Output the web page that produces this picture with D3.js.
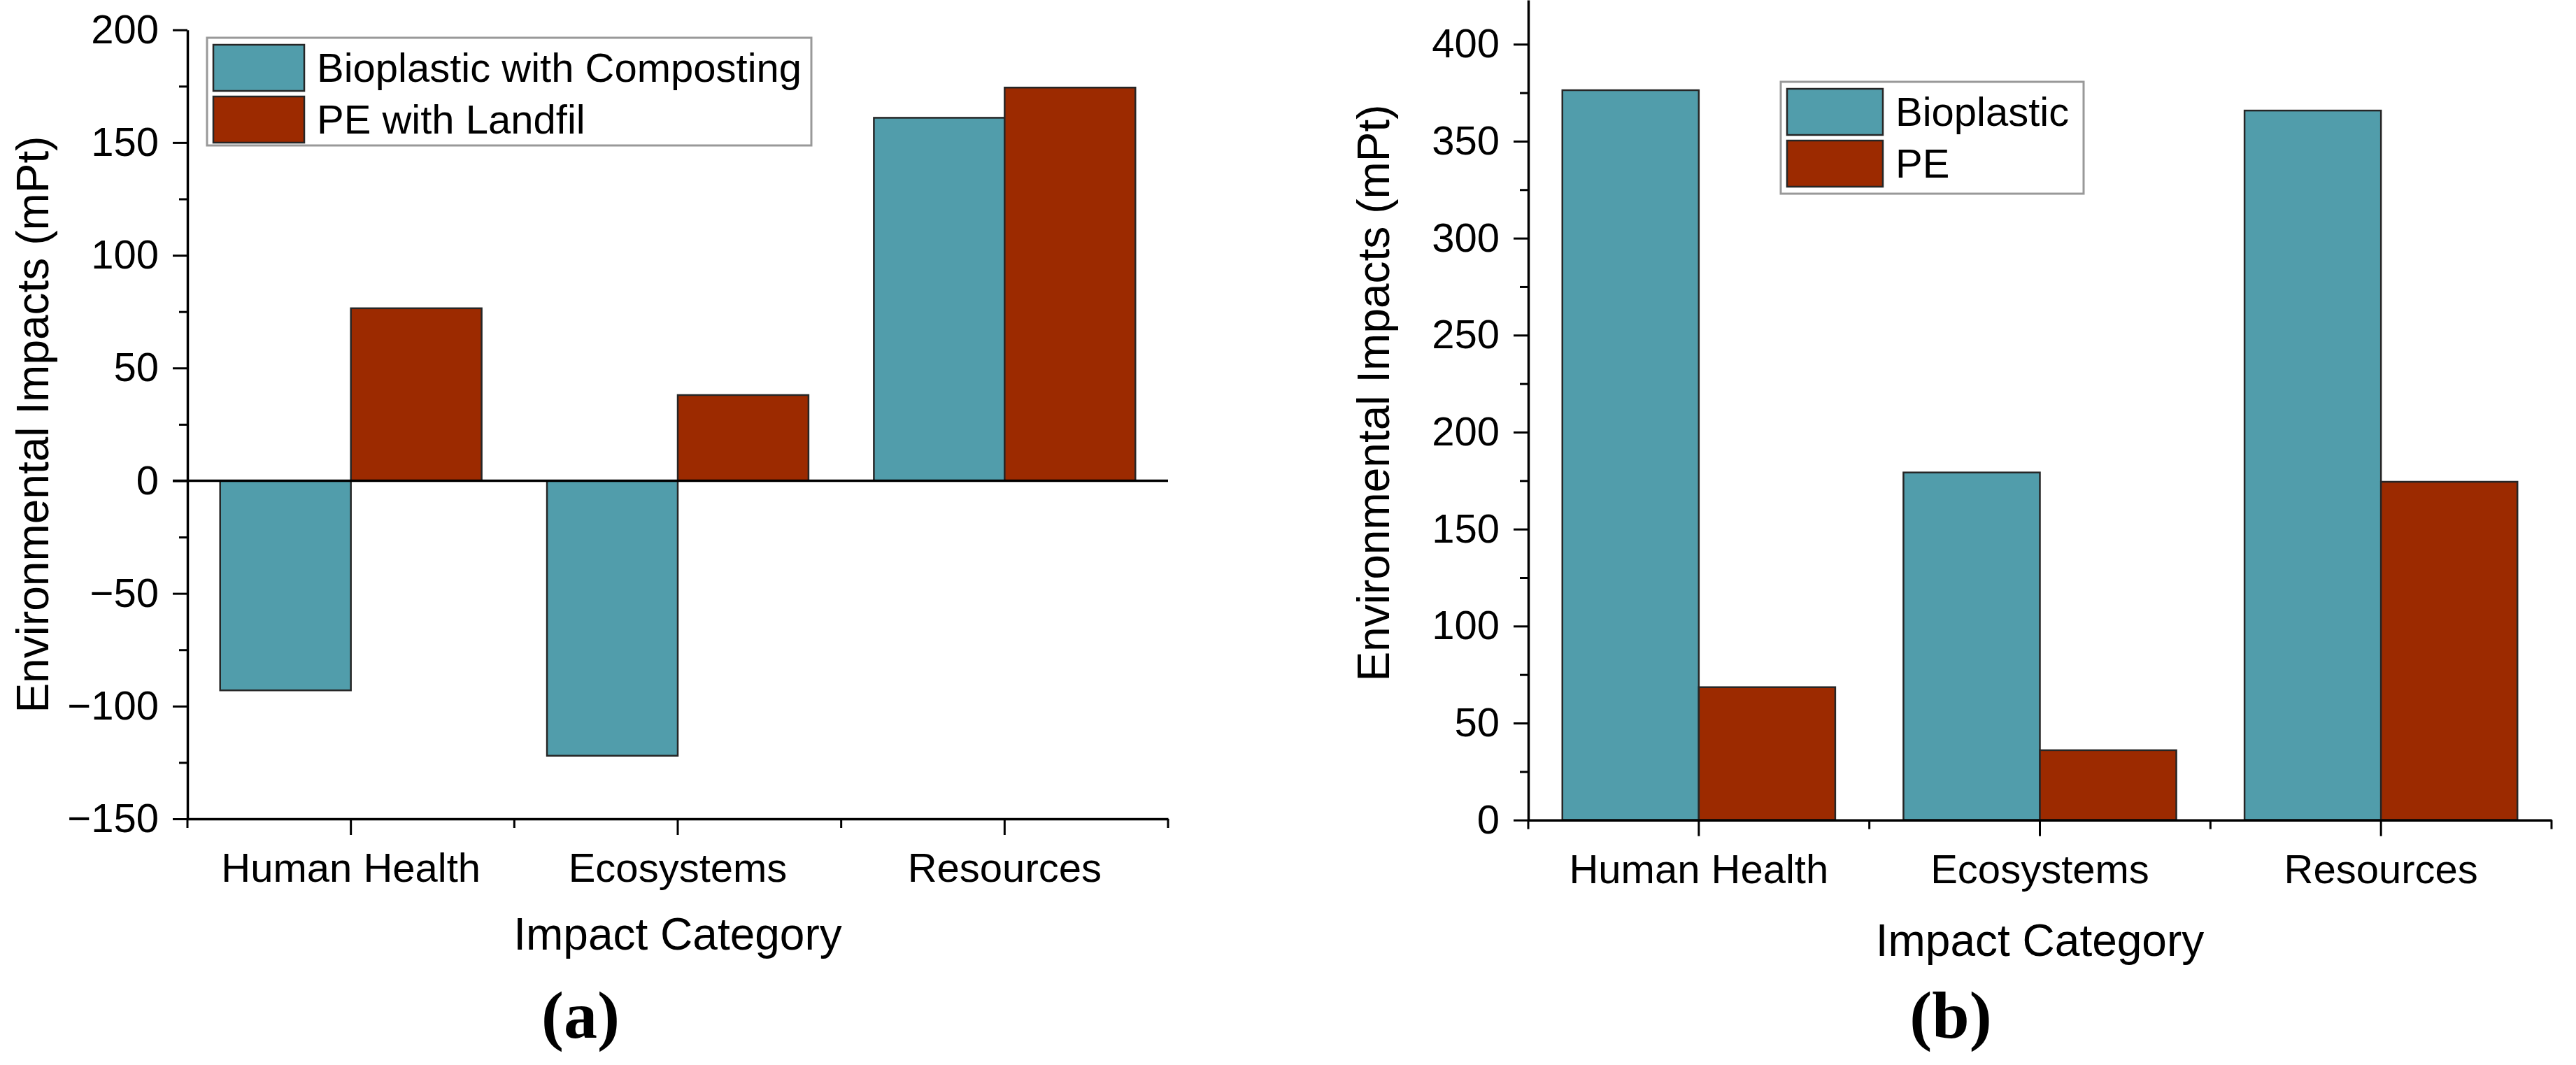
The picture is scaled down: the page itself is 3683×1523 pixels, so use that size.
<!DOCTYPE html>
<html>
<head>
<meta charset="utf-8">
<script src="https://cdn.jsdelivr.net/npm/d3@7"></script>
<style>
  body { margin: 0; background: #fff; }
  text { font-family: Arial, "Liberation Sans", sans-serif; fill: #000; }
</style>
</head>
<body>
<div id="my_dataviz"></div>
<script>
// data
var categories = ["Human Health", "Ecosystems", "Resources"];

// panel (a): bioplastic with composting vs PE with landfill
var seriesA = ["Bioplastic with Composting", "PE with Landfil"];
var bioCompost = [-93, -122, 161];
var peLandfill = [76.5, 38, 174.4];
var ticksA = [-150, -100, -50, 0, 50, 100, 150, 200];
var minorA = [-125, -75, -25, 25, 75, 125, 175];

// panel (b): bioplastic vs PE
var seriesB = ["Bioplastic", "PE"];
var bioplastic = [376.3, 179.2, 365.8];
var pe = [68.5, 36, 174.4];
var ticksB = [0, 50, 100, 150, 200, 250, 300, 350, 400];
var minorB = [25, 75, 125, 175, 225, 275, 325, 375];

var colors = ["#519dab", "#9c2a00"];

var svg = d3.select("#my_dataviz")
  .append("svg")
    .attr("width", 3683)
    .attr("height", 1523);

function drawPanel(p) {
  var g = svg.append("g");

  var x = d3.scaleBand()
    .domain(categories)
    .range([p.left, p.right])
    .padding(0);

  var xs = d3.scaleBand()
    .domain([0, 1])
    .range([0.1 * x.bandwidth(), 0.9 * x.bandwidth()]);

  var y = d3.scaleLinear()
    .domain(p.yDomain)
    .range([p.bottom, p.top]);

  // bars
  var rows = categories.map(function(c, i) {
    return { cat: c, vals: [p.s1[i], p.s2[i]] };
  });
  g.selectAll(".grp")
    .data(rows)
    .enter()
    .append("g")
      .attr("transform", function(d) { return "translate(" + x(d.cat) + ",0)"; })
    .selectAll("rect")
    .data(function(d) { return d.vals.map(function(v, k) { return { k: k, v: v }; }); })
    .enter()
    .append("rect")
      .attr("x", function(d) { return xs(d.k); })
      .attr("width", xs.bandwidth())
      .attr("y", function(d) { return y(Math.max(0, d.v)); })
      .attr("height", function(d) { return Math.abs(y(d.v) - y(0)); })
      .attr("fill", function(d) { return colors[d.k]; })
      .attr("stroke", "#262626")
      .attr("stroke-width", 2.5);

  // zero line
  if (p.yDomain[0] < 0) {
    g.append("line")
      .attr("x1", p.left - 21).attr("x2", p.right)
      .attr("y1", y(0)).attr("y2", y(0))
      .attr("stroke", "#000").attr("stroke-width", 3.5);
  }

  // Y axis
  var yAx = g.append("g")
    .attr("transform", "translate(" + p.left + ",0)")
    .call(d3.axisLeft(y).tickValues(p.ticks).tickSize(21).tickPadding(20).tickSizeOuter(0));
  yAx.selectAll(".tick text").style("font-size", "58px");
  g.append("g")
    .attr("transform", "translate(" + p.left + ",0)")
    .call(d3.axisLeft(y).tickValues(p.minor).tickSize(12).tickFormat("").tickSizeOuter(0))
    .select(".domain").remove();

  // X axis
  var xAx = g.append("g")
    .attr("transform", "translate(0," + p.bottom + ")")
    .call(d3.axisBottom(x).tickSize(23).tickPadding(26).tickSizeOuter(0));
  xAx.selectAll(".tick text").style("font-size", "58px");
  var edges = categories.map(function(c) { return x(c); }).concat([p.right]);
  g.selectAll(".minx")
    .data(edges)
    .enter()
    .append("line")
      .attr("x1", function(d) { return d; }).attr("x2", function(d) { return d; })
      .attr("y1", p.bottom).attr("y2", p.bottom + 13)
      .attr("stroke", "#000").attr("stroke-width", 3);

  g.selectAll(".domain").attr("stroke-width", 3.5);
  g.selectAll(".tick line").attr("stroke-width", 3);

  // axis titles
  g.append("text")
    .attr("text-anchor", "middle")
    .attr("x", (p.left + p.right) / 2)
    .attr("y", p.xTitleY)
    .style("font-size", "64px")
    .text("Impact Category");

  g.append("text")
    .attr("text-anchor", "middle")
    .attr("dominant-baseline", "central")
    .attr("transform", "translate(" + (p.left - 221) + "," + p.yTitleY + ") rotate(-90)")
    .style("font-size", "64px")
    .text("Environmental Impacts (mPt)");

  // panel letter
  g.append("text")
    .attr("text-anchor", "middle")
    .attr("x", p.letterX)
    .attr("y", 1484)
    .style("font-family", "'Times New Roman', 'Liberation Serif', serif")
    .style("font-weight", "bold")
    .style("font-size", "96px")
    .text(p.letter);

  // legend
  var L = p.legend;
  g.append("rect")
    .attr("x", L.x).attr("y", L.y)
    .attr("width", L.w).attr("height", L.h)
    .attr("fill", "#fff")
    .attr("stroke", "#999").attr("stroke-width", 3);
  p.names.forEach(function(name, k) {
    g.append("rect")
      .attr("x", L.x + 9).attr("y", L.y + 10 + k * 74)
      .attr("width", L.sw).attr("height", 66)
      .attr("fill", colors[k])
      .attr("stroke", "#262626").attr("stroke-width", 2.5);
    g.append("text")
      .attr("x", L.x + L.sw + 27)
      .attr("y", L.y + 63 + k * 74)
      .style("font-size", "58px")
      .text(name);
  });
}

drawPanel({
  left: 268, right: 1670, top: 42.7, bottom: 1171,
  yDomain: [-150, 200], ticks: ticksA, minor: minorA,
  s1: bioCompost, s2: peLandfill, names: seriesA,
  xTitleY: 1358, yTitleY: 607, letter: "(a)", letterX: 830,
  legend: { x: 296, y: 54, w: 864, h: 154, sw: 130 }
});

drawPanel({
  left: 2185, right: 3648, top: 0, bottom: 1172.7,
  yDomain: [0, 422.8], ticks: ticksB, minor: minorB,
  s1: bioplastic, s2: pe, names: seriesB,
  xTitleY: 1367, yTitleY: 562, letter: "(b)", letterX: 2789,
  legend: { x: 2546, y: 117, w: 433, h: 160, sw: 137 }
});
</script>
</body>
</html>
